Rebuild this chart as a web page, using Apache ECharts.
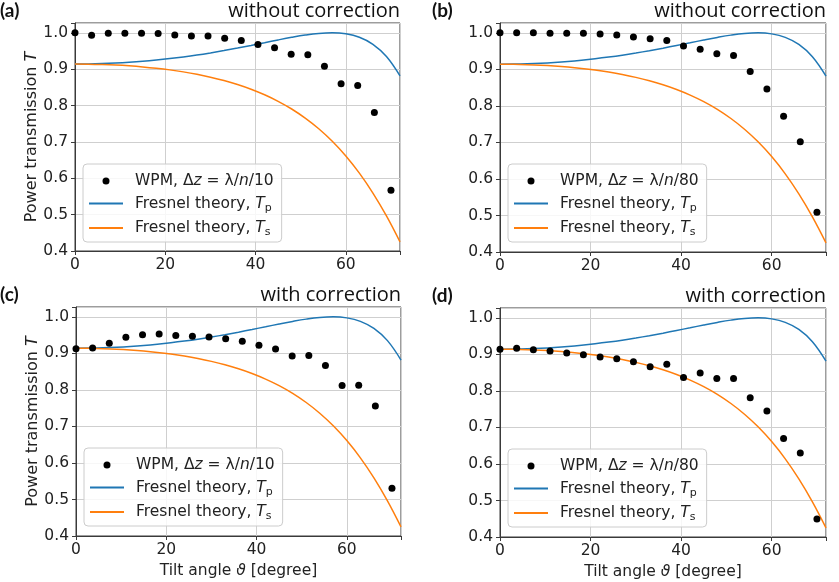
<!DOCTYPE html>
<html>
<head>
<meta charset="utf-8">
<script src="https://cdn.jsdelivr.net/npm/echarts@6/dist/echarts.min.js"></script>
<style>
  html, body { margin: 0; padding: 0; background: #fff; }
  #chart { width: 839px; height: 582px; }
</style>
</head>
<body>
<div id="chart"></div>
<script>
// Tilt angles of the WPM simulation runs [degree]
const wpmAngles = [0, 3.68, 7.37, 11.05, 14.74, 18.42, 22.11, 25.79, 29.47, 33.16,
  36.84, 40.53, 44.21, 47.89, 51.58, 55.26, 58.95, 62.63, 66.32, 70.0];

// WPM power transmission, four configurations
const wpmNoCorr10 = [1.000, 0.993, 0.999, 0.999, 0.999, 0.998, 0.994, 0.991, 0.991, 0.985,
  0.979, 0.968, 0.959, 0.941, 0.940, 0.908, 0.860, 0.855, 0.781, 0.567];
const wpmNoCorr80 = [1.000, 1.000, 1.000, 0.999, 0.999, 0.999, 0.997, 0.994, 0.989, 0.984,
  0.979, 0.964, 0.955, 0.943, 0.938, 0.894, 0.846, 0.772, 0.702, 0.509];
const wpmCorr10 = [0.913, 0.915, 0.928, 0.944, 0.951, 0.953, 0.949, 0.947, 0.945, 0.940,
  0.933, 0.922, 0.912, 0.893, 0.894, 0.867, 0.812, 0.813, 0.756, 0.531];
const wpmCorr80 = [0.914, 0.917, 0.913, 0.909, 0.904, 0.899, 0.893, 0.888, 0.880, 0.866,
  0.873, 0.837, 0.849, 0.834, 0.834, 0.781, 0.745, 0.670, 0.630, 0.449];

// Fresnel theory (slab, two interfaces), sampled every 3 degrees
const theoryAngles = [0, 3, 6, 9, 12, 15, 18, 21, 24, 27, 30, 33, 36, 39, 42, 45, 48,
  51, 54, 57, 60, 63, 66, 69, 72];
const fresnelTp = [0.9142, 0.9145, 0.9154, 0.9169, 0.9190, 0.9217, 0.9251, 0.9291, 0.9337,
  0.9389, 0.9448, 0.9512, 0.9581, 0.9654, 0.9729, 0.9805, 0.9876, 0.9938, 0.9983, 1.0000,
  0.9972, 0.9877, 0.9684, 0.9349, 0.8815];
const fresnelTs = [0.9142, 0.9139, 0.9129, 0.9114, 0.9092, 0.9063, 0.9026, 0.8981, 0.8926,
  0.8860, 0.8781, 0.8688, 0.8578, 0.8449, 0.8296, 0.8116, 0.7905, 0.7655, 0.7362, 0.7017,
  0.6612, 0.6140, 0.5592, 0.4963, 0.4249];

// Axis ticks
const xTicks = [0, 20, 40, 60];
const yTicks = [0.4, 0.5, 0.6, 0.7, 0.8, 0.9, 1.0];

const panelLetters = ['(a)', '(b)', '(c)', '(d)'];
const panelTitles = ['without correction', 'without correction', 'with correction', 'with correction'];
const stepLabels = ['10', '80', '10', '80'];
const wpmSets = [wpmNoCorr10, wpmNoCorr80, wpmCorr10, wpmCorr80];

const zip = (xs, ys) => xs.map((x, i) => [x, ys[i]]);

const TICK_FONT = 'DejaVu Sans';
const boxes = [
  { left: 75, top: 23, width: 325, height: 228 },
  { left: 500, top: 23, width: 326, height: 229 },
  { left: 76, top: 307, width: 325, height: 229 },
  { left: 500, top: 308, width: 326, height: 229 }
];

const grid = [], xAxis = [], yAxis = [], series = [], legend = [], title = [];
const legendText = {};

boxes.forEach((b, k) => {
  grid.push(Object.assign({ show: true, borderColor: '#3a3a3a', borderWidth: 1,
    backgroundColor: 'transparent' }, b));

  const isBottom = k >= 2, isLeft = k % 2 === 0;
  xAxis.push({
    type: 'value', gridIndex: k, min: 0, max: 72, interval: 20,
    axisLine: { show: true, onZero: false, lineStyle: { color: '#3a3a3a', width: 1 } },
    axisTick: { show: true, length: 4, lineStyle: { color: '#3a3a3a' } },
    axisLabel: {
      fontFamily: TICK_FONT, fontSize: 15.5, color: '#222', margin: 6,
      formatter: v => (xTicks.indexOf(v) >= 0 ? String(v) : '')
    },
    splitLine: { show: true, lineStyle: { color: '#cfcfcf', width: 1 } },
    name: isBottom ? '{n|Tilt angle }{i|ϑ}{n| [degree]}' : '',
    nameLocation: 'middle', nameGap: 27,
    nameTextStyle: {
      rich: {
        n: { fontFamily: TICK_FONT, fontSize: 15.5, color: '#222' },
        i: { fontFamily: TICK_FONT, fontSize: 15.5, fontStyle: 'italic', color: '#222' }
      }
    }
  });
  yAxis.push({
    type: 'value', gridIndex: k, min: 0.4, max: 1.027, interval: 0.1,
    axisLine: { show: true, onZero: false, lineStyle: { color: '#3a3a3a', width: 1 } },
    axisTick: { show: true, length: 4, lineStyle: { color: '#3a3a3a' } },
    axisLabel: {
      fontFamily: TICK_FONT, fontSize: 15.5, color: '#222', margin: 7,
      formatter: v => (yTicks.some(t => Math.abs(t - v) < 1e-6) ? v.toFixed(1) : '')
    },
    splitLine: { show: true, lineStyle: { color: '#cfcfcf', width: 1 } },
    name: isLeft ? '{n|Power transmission }{i|T}' : '',
    nameLocation: 'middle', nameGap: 34, nameRotate: 90,
    nameTextStyle: {
      rich: {
        n: { fontFamily: TICK_FONT, fontSize: 16, color: '#222' },
        i: { fontFamily: TICK_FONT, fontSize: 16, fontStyle: 'italic', color: '#222' }
      }
    }
  });

  const wName = 'wpm' + k, pName = 'tp' + k, sName = 'ts' + k;
  legendText[wName] = '{p|}{t|WPM, Δ}{i|z}{t| = λ/}{i|n}{t|/' + stepLabels[k] + '}';
  legendText[pName] = '{p|}{t|Fresnel theory, }{i|T}{s|p}';
  legendText[sName] = '{p|}{t|Fresnel theory, }{i|T}{s|s}';

  series.push({
    name: pName, type: 'line', xAxisIndex: k, yAxisIndex: k,
    data: zip(theoryAngles, fresnelTp), smooth: 0.4, symbol: 'none',
    lineStyle: { color: '#1f77b4', width: 1.5 }, itemStyle: { color: '#1f77b4' },
    z: 3, animation: false
  });
  series.push({
    name: sName, type: 'line', xAxisIndex: k, yAxisIndex: k,
    data: zip(theoryAngles, fresnelTs), smooth: 0.4, symbol: 'none',
    lineStyle: { color: '#ff7f0e', width: 1.5 }, itemStyle: { color: '#ff7f0e' },
    z: 3, animation: false
  });
  series.push({
    name: wName, type: 'scatter', xAxisIndex: k, yAxisIndex: k,
    data: zip(wpmAngles, wpmSets[k]), symbol: 'circle', symbolSize: 7,
    itemStyle: { color: '#000', opacity: 1 }, z: 4, animation: false, clip: false
  });

  legend.push({
    orient: 'vertical',
    left: b.left + 8, top: b.top + 141,
    itemWidth: 34, itemHeight: 7, itemGap: 6.5,
    padding: [9, 8, 4, 5],
    backgroundColor: 'rgba(255,255,255,0.82)',
    borderColor: '#cccccc', borderWidth: 1, borderRadius: 4,
    selectedMode: false,
    data: [
      { name: wName, icon: 'circle', itemStyle: { color: '#000', opacity: 1 } },
      { name: pName, itemStyle: { opacity: 0 } },
      { name: sName, itemStyle: { opacity: 0 } }
    ],
    formatter: n => legendText[n],
    textStyle: {
      rich: {
        p: { width: 7, lineHeight: 20 },
        t: { fontFamily: TICK_FONT, fontSize: 15.5, color: '#222', lineHeight: 20 },
        i: { fontFamily: TICK_FONT, fontSize: 15.5, fontStyle: 'italic', color: '#222', lineHeight: 20 },
        s: { fontFamily: TICK_FONT, fontSize: 11, color: '#222', lineHeight: 19, verticalAlign: 'bottom' }
      }
    },
    z: 10
  });

  const topText = b.top - 21;
  title.push({
    text: panelLetters[k], left: isLeft ? 0 : 432, top: topText - 1, padding: 0,
    textStyle: { fontFamily: 'Lato', fontWeight: 'bold', fontSize: 19, color: '#111' }
  });
  title.push({
    text: panelTitles[k], right: 839 - (b.left + b.width), top: topText - 1, padding: 0,
    textStyle: { fontFamily: 'Open Sans', fontWeight: 'normal', fontSize: 20, color: '#111' }
  });
});

const chart = echarts.init(document.getElementById('chart'), null, { renderer: 'canvas' });
chart.setOption({
  animation: false,
  backgroundColor: '#fff',
  title, grid, xAxis, yAxis, legend, series
});
</script>
</body>
</html>
